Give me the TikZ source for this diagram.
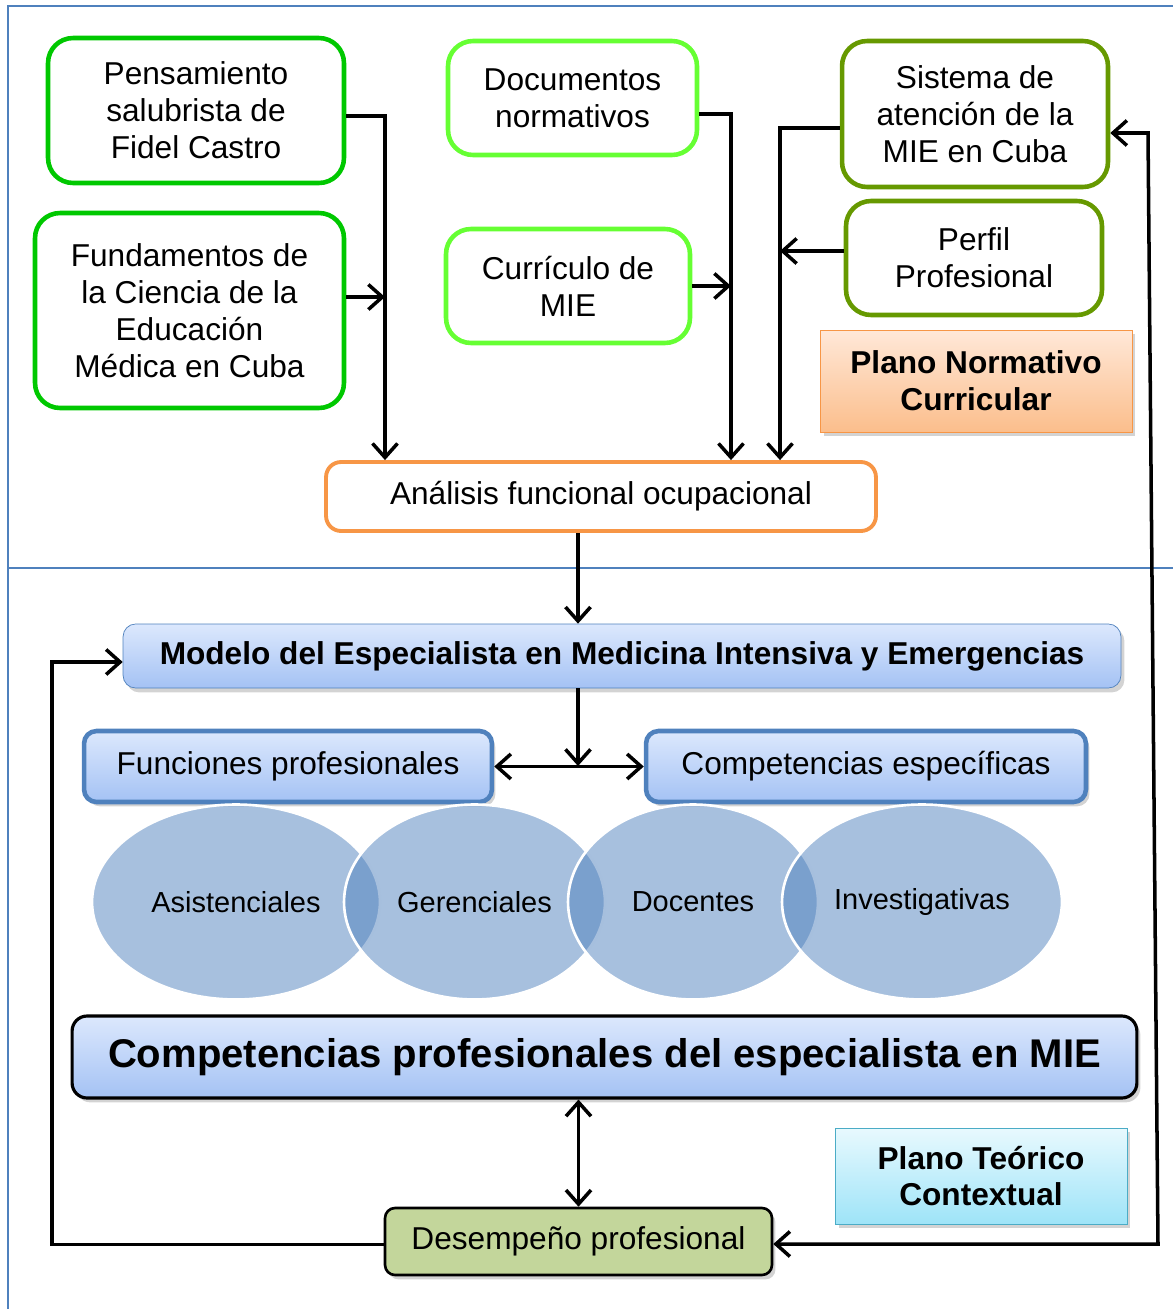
\documentclass[tikz,border=0pt]{standalone}
\usepackage{fontspec}
\setmainfont{Liberation Sans}
\usepackage{tikz}
\usetikzlibrary{arrows.meta, shapes.geometric, shadows}

\definecolor{pgreen}{RGB}{0,200,0}
\definecolor{lgreen}{RGB}{102,255,51}
\definecolor{ogreen}{RGB}{102,153,0}
\definecolor{orng}{RGB}{247,150,70}
\definecolor{offblue}{RGB}{79,129,189}
\definecolor{bluetop}{RGB}{220,232,253}
\definecolor{bluebot}{RGB}{164,194,244}
\definecolor{peachtop}{RGB}{255,232,216}
\definecolor{peachbot}{RGB}{251,190,140}
\definecolor{cyantop}{RGB}{232,249,254}
\definecolor{cyanbot}{RGB}{158,228,248}
\definecolor{cyanline}{RGB}{75,172,198}
\definecolor{olivefill}{RGB}{195,214,155}

\begin{document}
\begin{tikzpicture}[
  x=0.02cm, y=-0.02cm,
  font=\fontsize{18}{21}\selectfont,
  srcbox/.style={rectangle, rounded corners=0.5cm, draw, line width=2.6pt, fill=white, align=center, inner sep=2pt},
  bluebox/.style={rectangle, rounded corners=0.25cm, draw=offblue, top color=bluetop, bottom color=bluebot,
    drop shadow={shadow xshift=2pt, shadow yshift=-2.5pt, opacity=0.35}, align=center},
  planebox/.style={rectangle, align=center, font=\fontsize{18}{21}\selectfont\bfseries,
    drop shadow={shadow xshift=2pt, shadow yshift=-2.5pt, opacity=0.35}},
  venn/.style={ellipse, fill=offblue, fill opacity=0.5, text opacity=1, draw=white, draw opacity=1,
    line width=1.5pt, minimum height=3.9cm, inner sep=0pt, font=\fontsize{16.5}{19}\selectfont},
  conn/.style={line width=2pt},
  tip/.style={-{Straight Barb[length=2.8mm, width=5mm]}},
  tips/.style={{Straight Barb[length=2.8mm, width=5mm]}-{Straight Barb[length=2.8mm, width=5mm]}},
]
\useasboundingbox (0,0) rectangle (1173,1309);

% frame of the two planes
\draw[offblue, line width=1.1pt] (8,1309) -- (8,6) -- (1173,6);
\draw[offblue, line width=1.1pt] (8,568) -- (1173,568);

% plano normativo curricular
\node[srcbox, draw=pgreen, minimum width=5.92cm, minimum height=2.9cm] (pens) at (196,110.5)
  {Pensamiento\\salubrista de\\Fidel Castro};
\node[srcbox, draw=pgreen, minimum width=6.18cm, minimum height=3.9cm] (fund) at (189.5,310.5)
  {Fundamentos de\\la Ciencia de la\\Educación\\Médica en Cuba};
\node[srcbox, draw=lgreen, minimum width=4.98cm, minimum height=2.28cm] (docs) at (572.5,98)
  {Documentos\\normativos};
\node[srcbox, draw=lgreen, minimum width=4.88cm, minimum height=2.28cm] (curr) at (568,286)
  {Currículo de\\MIE};
\node[srcbox, draw=ogreen, minimum width=5.32cm, minimum height=2.92cm] (sist) at (975,114)
  {Sistema de\\atención de la\\MIE en Cuba};
\node[srcbox, draw=ogreen, minimum width=5.12cm, minimum height=2.28cm] (perf) at (974,258)
  {Perfil\\Profesional};
\node[planebox, draw=orng, top color=peachtop, bottom color=peachbot, minimum width=6.24cm, minimum height=2.04cm] (pnc) at (976,381)
  {Plano Normativo\\Curricular};
\node[srcbox, draw=orng, rounded corners=0.3cm, line width=2.2pt, minimum width=11cm, minimum height=1.38cm] (anal) at (601,496.5)
  {Análisis funcional ocupacional};

\coordinate (jA) at (385,116);
\coordinate (jB) at (731,114);
\coordinate (jC) at (780,128);
\draw[conn, tip] (pens.east |- jA) -- (jA) -- (jA |- anal.north);
\draw[conn, tip] ([yshift=0.27cm]fund.east) -- ([yshift=0.27cm]fund.east -| jA);
\draw[conn, tip] (docs.east |- jB) -- (jB) -- (jB |- anal.north);
\draw[conn, tip] (curr.east) -- (curr.east -| jB);
\draw[conn, tip] (sist.west |- jC) -- (jC) -- (jC |- anal.north);
\draw[conn, tip] ([yshift=0.14cm]perf.west) -- ([yshift=0.14cm]perf.west -| jC);

% plano teorico contextual
\node[bluebox, font=\fontsize{18}{21}\selectfont\bfseries, minimum width=19.96cm, minimum height=1.28cm] (modelo) at (622,656)
  {Modelo del Especialista en Medicina Intensiva y Emergencias};
\node[bluebox, line width=2.6pt, minimum width=8.16cm, minimum height=1.42cm] (func) at (288,766.5)
  {Funciones profesionales};
\node[bluebox, line width=2.6pt, minimum width=8.8cm, minimum height=1.42cm] (cesp) at (866,766.5)
  {Competencias específicas};

\node[venn, minimum width=5.76cm] (asis) at (236,902) {Asistenciales};
\node[venn, minimum width=5.22cm] (geren) at (474.5,902) {Gerenciales};
\node[venn, minimum width=5.0cm] (doc) at (693,902) {Docentes};
\node[venn, minimum width=5.6cm] (inv) at (922,902) {Investigativas};

\node[bluebox, draw=black, line width=1.8pt, rounded corners=0.3cm, font=\fontsize{22.8}{26}\selectfont\bfseries,
  minimum width=21.3cm, minimum height=1.64cm] (cprof) at (604.5,1057)
  {Competencias profesionales del especialista en MIE};
\node[planebox, draw=cyanline, top color=cyantop, bottom color=cyanbot, minimum width=5.84cm, minimum height=1.92cm] (ptc) at (981,1176)
  {Plano Teórico\\Contextual};
\node[rectangle, rounded corners=0.2cm, draw=black, line width=1.5pt, fill=olivefill,
  drop shadow={shadow xshift=2pt, shadow yshift=-2.5pt, opacity=0.35},
  minimum width=7.74cm, minimum height=1.34cm] (desem) at (578.5,1241.5) {Desempeño profesional};

\coordinate (jD) at (578,766);
\coordinate (lb) at (52,0);
\coordinate (rt) at (1148,133);
\coordinate (rb) at (1158,1244);
\draw[conn, tip] (anal.south -| jD) -- (modelo.north -| jD);
\draw[conn, tip] (modelo.south -| jD) -- (jD);
\draw[conn, tips] (func.east) -- (cesp.west);
\draw[conn, tips] (cprof.south -| desem.north) -- (desem.north);
\draw[conn, tip] ([yshift=-0.06cm]desem.west) -| ([yshift=-0.12cm]modelo.west -| lb) -- ([yshift=-0.12cm]modelo.west);
\draw[conn, tips] (sist.east |- rt) -- (rt) -- (rb) -- (desem.east |- rb);
\end{tikzpicture}
\end{document}
